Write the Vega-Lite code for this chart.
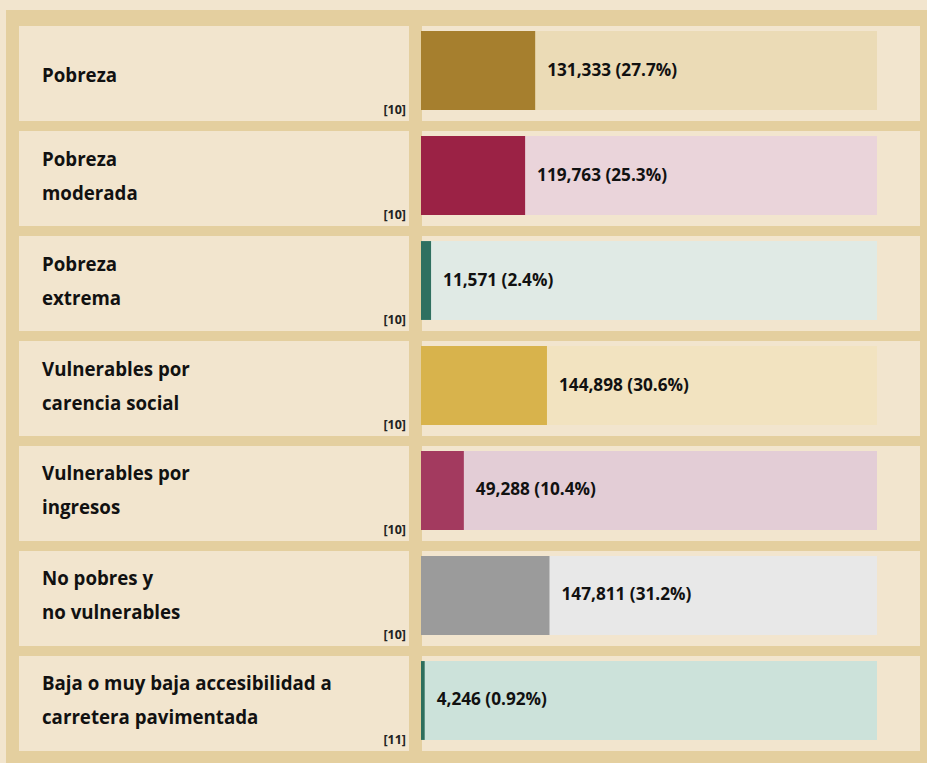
{
  "$schema": "https://vega.github.io/schema/vega-lite/v6.json",
  "background": "#f2e5ce",
  "padding": {"left": 6, "top": 10, "right": 0, "bottom": 0},
  "config": {"view": {"stroke": null, "fill": "#e4cf9f"}, "font": "Open Sans"},
  "data": {"values": [
    {"cat": "Pobreza", "label": ["Pobreza"], "value": 131333, "vlabel": "131,333 (27.7%)", "note": "[10]"},
    {"cat": "Pobreza moderada", "label": ["Pobreza", "moderada"], "value": 119763, "vlabel": "119,763 (25.3%)", "note": "[10]"},
    {"cat": "Pobreza extrema", "label": ["Pobreza", "extrema"], "value": 11571, "vlabel": "11,571 (2.4%)", "note": "[10]"},
    {"cat": "Vulnerables por carencia social", "label": ["Vulnerables por", "carencia social"], "value": 144898, "vlabel": "144,898 (30.6%)", "note": "[10]"},
    {"cat": "Vulnerables por ingresos", "label": ["Vulnerables por", "ingresos"], "value": 49288, "vlabel": "49,288 (10.4%)", "note": "[10]"},
    {"cat": "No pobres y no vulnerables", "label": ["No pobres y", "no vulnerables"], "value": 147811, "vlabel": "147,811 (31.2%)", "note": "[10]"},
    {"cat": "Baja o muy baja accesibilidad", "label": ["Baja o muy baja accesibilidad a", "carretera pavimentada"], "value": 4246, "vlabel": "4,246 (0.92%)", "note": "[11]"}
  ]},
  "spacing": 0,
  "hconcat": [
    {
      "width": 409,
      "height": 753,
      "encoding": {
        "y": {"field": "cat", "type": "nominal", "sort": null, "axis": null,
              "scale": {"range": [16, 741], "paddingInner": 0.095, "paddingOuter": 0}}
      },
      "layer": [
        {
          "mark": {"type": "bar", "fill": "#f2e5ce"},
          "encoding": {
            "x": {"datum": 0, "type": "quantitative", "scale": {"domain": [0, 1], "range": [13, 403], "nice": false, "zero": false}, "axis": null},
            "x2": {"datum": 1}
          }
        },
        {
          "transform": [{"filter": "length(datum.label) == 1"}],
          "mark": {"type": "text", "align": "left", "baseline": "middle", "dx": 23, "dy": 2, "fontSize": 18.7, "fontWeight": "bold", "lineHeight": 34, "color": "#111111"},
          "encoding": {
            "x": {"datum": 0, "type": "quantitative"},
            "text": {"field": "label"}
          }
        },
        {
          "transform": [{"filter": "length(datum.label) > 1"}],
          "mark": {"type": "text", "align": "left", "baseline": "middle", "dx": 23, "dy": -19, "fontSize": 18.7, "fontWeight": "bold", "lineHeight": 34, "color": "#111111"},
          "encoding": {
            "x": {"datum": 0, "type": "quantitative"},
            "text": {"field": "label"}
          }
        },
        {
          "mark": {"type": "text", "align": "right", "baseline": "bottom", "dx": -3, "dy": -4, "fontSize": 12.5, "fontWeight": "bold", "color": "#222222"},
          "encoding": {
            "x": {"datum": 1, "type": "quantitative"},
            "y": {"field": "cat", "type": "nominal", "sort": null, "bandPosition": 1, "axis": null},
            "text": {"field": "note"}
          }
        }
      ]
    },
    {
      "width": 512,
      "height": 753,
      "encoding": {
        "y": {"field": "cat", "type": "nominal", "sort": null, "axis": null,
              "scale": {"range": [16, 741], "paddingInner": 0.095, "paddingOuter": 0}}
      },
      "layer": [
        {
          "mark": {"type": "bar", "fill": "#f2e5ce"},
          "encoding": {
            "x": {"datum": 0, "type": "quantitative", "scale": {"domain": [0, 1], "range": [7, 505], "nice": false, "zero": false}, "axis": null},
            "x2": {"datum": 1}
          }
        },
        {
          "layer": [
            {
              "mark": {"type": "bar", "height": {"band": 0.83}, "yOffset": -3},
              "encoding": {
                "x": {"datum": 0, "type": "quantitative", "scale": {"domain": [0, 524500], "range": [6, 462], "nice": false, "zero": false}, "axis": null},
                "x2": {"datum": 524500},
                "fill": {"field": "cat", "type": "nominal", "sort": null, "legend": null,
                         "scale": {"range": ["#ebdbb6", "#ead4da", "#e0eae5", "#f2e3c0", "#e3cdd6", "#e8e8e8", "#cce2da"]}}
              }
            },
            {
              "mark": {"type": "bar", "height": {"band": 0.83}, "yOffset": -3},
              "encoding": {
                "x": {"field": "value", "type": "quantitative"},
                "fill": {"field": "cat", "type": "nominal", "sort": null, "legend": null,
                         "scale": {"range": ["#a67f2e", "#9b2245", "#2f7060", "#d8b34c", "#a33a5f", "#9b9b9b", "#2d6e5c"]}}
              }
            },
            {
              "mark": {"type": "text", "align": "left", "baseline": "middle", "dx": 12, "yOffset": -3, "fontSize": 17.2, "fontWeight": "bold", "color": "#111111"},
              "encoding": {
                "x": {"field": "value", "type": "quantitative"},
                "text": {"field": "vlabel"}
              }
            }
          ],
          "resolve": {"scale": {"fill": "independent"}}
        }
      ],
      "resolve": {"scale": {"x": "independent"}}
    }
  ]
}
